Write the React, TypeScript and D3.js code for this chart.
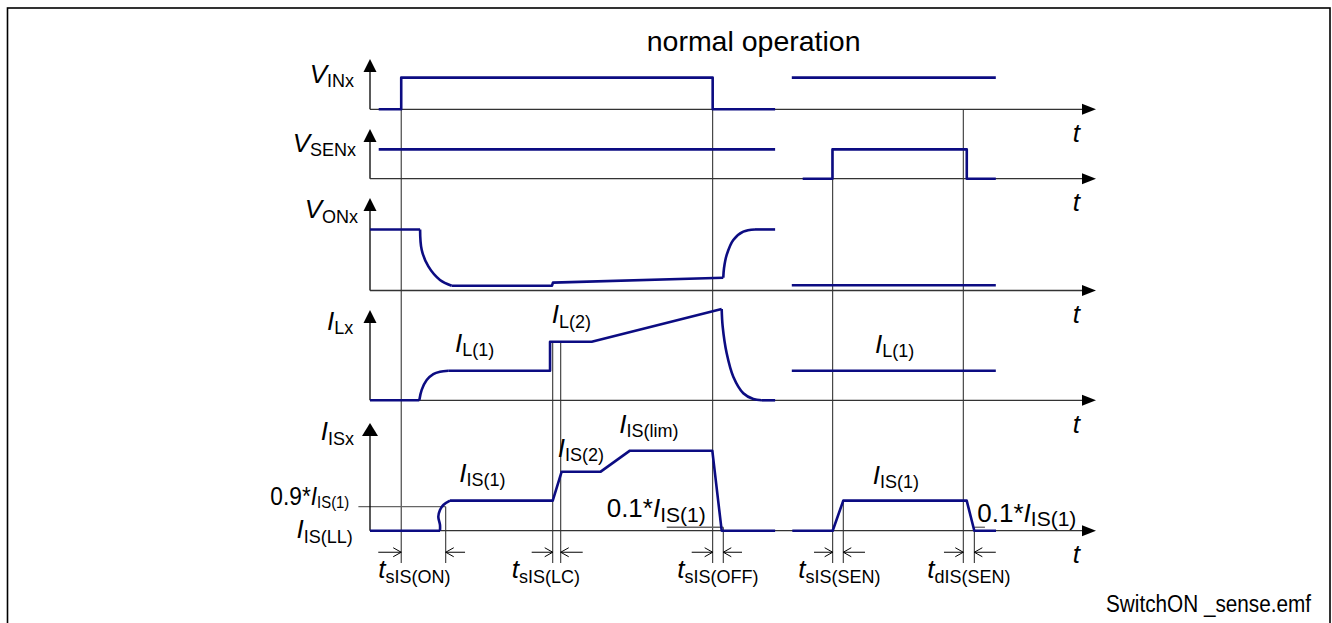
import * as d3 from "d3";

const W = 1332;
const H = 623;

// time runs in arbitrary units 0..100 along every trace
type Pt = [number, number];
type Seg = { pts: Pt[]; smooth?: boolean };

// levels are fractions of each panel's axis height
const vinSegs: Seg[] = [
  { pts: [[1.2, 0], [4.3, 0], [4.3, 0.63], [47.2, 0.63], [47.2, 0], [55.8, 0]] },
  { pts: [[58.1, 0.63], [86.2, 0.63]] },
];
const vsenSegs: Seg[] = [
  { pts: [[1.2, 0.59], [55.8, 0.59]] },
  { pts: [[59.6, 0], [63.7, 0], [63.7, 0.59], [82.2, 0.59], [82.2, 0], [86.2, 0]] },
];
const vonSegs: Seg[] = [
  { pts: [[0, 0.66], [6.9, 0.66]] },
  { pts: [[6.9, 0.66], [7.12, 0.44], [8.04, 0.26], [9.64, 0.114], [11.25, 0.052]], smooth: true },
  { pts: [[11.25, 0.052], [25.07, 0.052], [25.2, 0.085], [48.66, 0.138]] },
  { pts: [[48.66, 0.138], [48.76, 0.24], [49.13, 0.384], [50.04, 0.546], [51.42, 0.636], [53.03, 0.66]], smooth: true },
  { pts: [[53.03, 0.66], [55.8, 0.66]] },
  { pts: [[58.1, 0.056], [86.2, 0.056]] },
];
const ilSegs: Seg[] = [
  { pts: [[0, 0], [6.79, 0]] },
  { pts: [[6.79, 0], [7.12, 0.115], [7.81, 0.225], [8.72, 0.291], [9.64, 0.317], [10.78, 0.328]], smooth: true },
  { pts: [[10.78, 0.328], [24.8, 0.328], [24.8, 0.649], [30.54, 0.649], [48.44, 1.011]] },
  { pts: [[48.44, 1.011], [48.58, 0.815], [49.13, 0.52], [50.04, 0.261], [51.42, 0.078], [52.8, 0.014], [53.95, 0]], smooth: true },
  { pts: [[53.95, 0], [55.8, 0]] },
  { pts: [[58.1, 0.328], [86.2, 0.328]] },
];
const isSegs: Seg[] = [
  { pts: [[0, 0], [9.64, 0]] },
  { pts: [[9.64, 0], [9.64, 0.053], [9.41, 0.13], [9.64, 0.192], [10.1, 0.239], [11.02, 0.279]], smooth: true },
  { pts: [[11.02, 0.279], [25.17, 0.279], [26.4, 0.548], [31.78, 0.548], [35.8, 0.743], [47.15, 0.743], [48.44, 0], [55.8, 0]] },
  { pts: [[58.17, 0], [63.73, 0], [65.19, 0.279], [82.19, 0.279], [83.24, 0], [86.23, 0]] },
];
const signals = [vinSegs, vsenSegs, vonSegs, ilSegs, isSegs];

// vertical guide lines: time, panel they start in, level they start at
const guideT = [4.3, 10.43, 25.17, 26.27, 47.2, 48.66, 63.73, 65.19, 81.72, 83.24];
const guidePanel = [0, 4, 3, 3, 0, 4, 1, 4, 0, 4];
const guideLevel = [0.63, 0.223, 0.649, 0.649, 0.63, 0.032, 0.59, 0.279, 0, 0.032];

// timing arrows [from, to] under the I_IS trace
const spanArrows: Pt[] = [
  [1.14, 4.3], [13.09, 10.43], [22.27, 25.17], [29.3, 26.27], [44.31, 47.2],
  [51.24, 48.66], [61.16, 63.73], [68.18, 65.19], [79.06, 81.72], [86.2, 83.24],
];

// threshold lines in the I_IS panel: [t0, t1, level]
const refLines: [number, number, number][] = [
  [-1.6, 10.43, 0.223],
  [40.87, 48.66, 0.032],
  [83.24, 84.7, 0.032],
];

type Label = {
  panel: number; t: number; v: number; anchor?: string;
  pre?: string; sym: string; sub: string; subSize?: number; len?: number;
};
const labels: Label[] = [
  { panel: 0, t: -2.2, v: 0.53, anchor: "end", sym: "V", sub: "INx" },
  { panel: 1, t: -1.93, v: 0.54, anchor: "end", sym: "V", sub: "SENx" },
  { panel: 2, t: -1.65, v: 0.78, anchor: "end", sym: "V", sub: "ONx" },
  { panel: 3, t: -2.3, v: 0.78, anchor: "end", sym: "I", sub: "Lx" },
  { panel: 4, t: -2.2, v: 0.842, anchor: "end", sym: "I", sub: "ISx" },
  { panel: 4, t: -2.38, v: -0.07, anchor: "end", sym: "I", sub: "IS(LL)" },
  { panel: 4, t: -2.85, v: 0.235, anchor: "end", pre: "0.9*", sym: "I", sub: "IS(1)", subSize: 17, len: 79 },
  { panel: 3, t: 11.71, v: 0.538, sym: "I", sub: "L(1)" },
  { panel: 3, t: 25.03, v: 0.853, sym: "I", sub: "L(2)" },
  { panel: 3, t: 69.56, v: 0.527, sym: "I", sub: "L(1)" },
  { panel: 4, t: 12.3, v: 0.455, sym: "I", sub: "IS(1)" },
  { panel: 4, t: 25.85, v: 0.687, sym: "I", sub: "IS(2)" },
  { panel: 4, t: 34.34, v: 0.91, sym: "I", sub: "IS(lim)" },
  { panel: 4, t: 32.6, v: 0.124, pre: "0.1*", sym: "I", sub: "IS(1)", subSize: 21 },
  { panel: 4, t: 83.65, v: 0.084, pre: "0.1*", sym: "I", sub: "IS(1)", subSize: 21 },
  { panel: 4, t: 69.24, v: 0.434, sym: "I", sub: "IS(1)" },
  { panel: 4, t: 1.14, v: -0.442, sym: "t", sub: "sIS(ON)" },
  { panel: 4, t: 19.52, v: -0.442, sym: "t", sub: "sIS(LC)" },
  { panel: 4, t: 42.33, v: -0.442, sym: "t", sub: "sIS(OFF)" },
  { panel: 4, t: 59.0, v: -0.442, sym: "t", sub: "sIS(SEN)" },
  { panel: 4, t: 76.76, v: -0.442, sym: "t", sub: "dIS(SEN)" },
];

// layout
const panelBase = [109.3, 178.7, 290.5, 400.3, 530.7];
const panelTop = [59, 129, 198, 310, 423];
const GUIDE_BOTTOM = -0.3;
const ARROW_LEVEL = -0.2;
const NAVY = "#0c0c82";
const FONT = "'Liberation Sans', Arial, sans-serif";

export default function App() {
  const x = d3.scaleLinear().domain([0, 100]).range([370, 1096]);
  const ys = panelBase.map((b, i) => d3.scaleLinear().domain([0, 1]).range([b, panelTop[i]]));

  const pathFor = (seg: Seg, i: number) => {
    const ln = d3.line<Pt>()
      .x((d) => x(d[0]))
      .y((d) => ys[i](d[1]))
      .curve(seg.smooth ? d3.curveCatmullRom.alpha(0.5) : d3.curveLinear);
    return ln(seg.pts) ?? "";
  };

  const x0 = x(0);
  const xEnd = x(100);

  return (
    <svg width={W} height={H} viewBox={`0 0 ${W} ${H}`}
      style={{ position: "absolute", left: 0, top: 0, background: "#fff" }}>
      <rect x={7.5} y={8} width={1322.5} height={640} fill="none" stroke="#000" strokeWidth={1.6} />

      <text x={646.7} y={50.7} fontSize={28.5} fontFamily={FONT} fill="#000">normal operation</text>

      {/* guide lines */}
      {guideT.map((t, k) => (
        <line key={"g" + k} x1={x(t)} x2={x(t)} y1={ys[guidePanel[k]](guideLevel[k])} y2={ys[4](GUIDE_BOTTOM)}
          stroke="#222" strokeWidth={1} />
      ))}

      {/* threshold lines */}
      {refLines.map(([a, b, v], k) => (
        <line key={"r" + k} x1={x(a)} x2={x(b)} y1={ys[4](v)} y2={ys[4](v)} stroke="#666" strokeWidth={1.3} />
      ))}

      {/* axes */}
      {ys.map((y, i) => {
        const yb = y(0);
        const yt = y(1);
        const hw = i === 4 ? 8 : 6.5;
        return (
          <g key={"ax" + i}>
            <line x1={x0} x2={x0} y1={yb} y2={yt + 10} stroke="#000" strokeWidth={1.3} />
            <polygon points={`${x0},${yt} ${x0 - hw},${yt + 13} ${x0 + hw},${yt + 13}`} fill="#000" />
            <line x1={x0} x2={xEnd - 10} y1={yb} y2={yb} stroke="#333" strokeWidth={1.3} />
            <polygon points={`${xEnd},${yb} ${xEnd - 14},${yb - 5.5} ${xEnd - 14},${yb + 5.5}`} fill="#000" />
            <text x={x(96.8)} y={yb + 32.5} fontSize={26} fontStyle="italic" fontFamily={FONT}>t</text>
          </g>
        );
      })}

      {/* traces */}
      {signals.map((segs, i) =>
        segs.map((s, k) => (
          <path key={`s${i}-${k}`} d={pathFor(s, i)} fill="none" stroke={NAVY} strokeWidth={2.6}
            strokeLinejoin="round" strokeLinecap="butt" />
        ))
      )}

      {/* timing arrows */}
      {spanArrows.map(([a, b], k) => {
        const y = ys[4](ARROW_LEVEL);
        const xa = x(a);
        const xb = x(b);
        const dir = xb > xa ? 1 : -1;
        return (
          <g key={"a" + k} stroke="#000" strokeWidth={1} fill="none">
            <line x1={xa} x2={xb} y1={y} y2={y} />
            <polyline points={`${xb - dir * 8},${y - 4.5} ${xb},${y} ${xb - dir * 8},${y + 4.5}`} />
          </g>
        );
      })}

      {/* labels */}
      {labels.map((l, k) => (
        <text key={"l" + k} x={x(l.t)} y={ys[l.panel](l.v)} textAnchor={l.anchor ?? "start"}
          fontSize={26} fontFamily={FONT} fill="#000"
          {...(l.len ? { textLength: l.len, lengthAdjust: "spacingAndGlyphs" } : {})}>
          {l.pre && <tspan>{l.pre}</tspan>}
          <tspan fontStyle="italic">{l.sym}</tspan>
          <tspan fontSize={l.subSize ?? 18} dy={l.subSize === 17 ? 3 : 4.5}>{l.sub}</tspan>
        </text>
      ))}

      <text x={1106} y={612} fontSize={23} fontFamily={FONT} textLength={205} lengthAdjust="spacingAndGlyphs">
        SwitchON _sense.emf
      </text>
    </svg>
  );
}
